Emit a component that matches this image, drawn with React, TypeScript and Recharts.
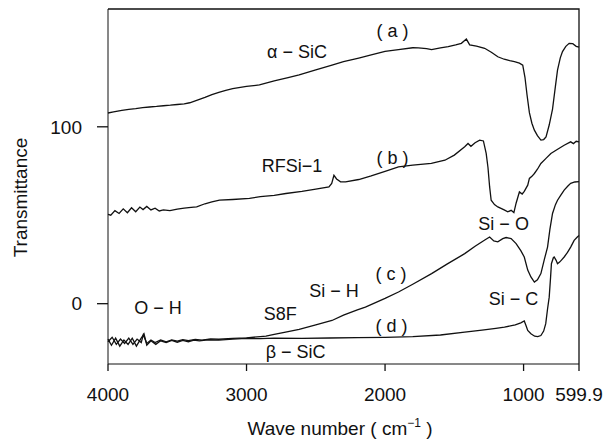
import { ComposedChart, Line, Scatter, XAxis, YAxis } from "recharts";

// wavenumber (cm-1), transmittance
const curveA: [number, number][] = [
  [4000, 107.8], [3960, 108.4], [3900, 109.3], [3850, 109.9], [3800, 110.3],
  [3750, 110.9], [3700, 111.2], [3650, 111.5], [3600, 111.9], [3550, 112.2],
  [3500, 112.6], [3450, 113.0], [3410, 113.6], [3350, 115.2], [3300, 116.6],
  [3250, 118.2], [3200, 119.5], [3150, 120.6], [3100, 121.6], [3000, 122.8],
  [2907, 123.7], [2800, 126.0], [2700, 127.8], [2620, 129.3], [2500, 132.2],
  [2383, 134.9], [2300, 136.8], [2190, 138.8], [2100, 140.6], [2000, 142.6],
  [1903, 143.6], [1800, 144.7], [1760, 144.6], [1700, 144.2], [1664, 143.6],
  [1600, 144.6], [1544, 145.3], [1490, 146.3], [1449, 147.2], [1413, 149.6],
  [1389, 146.3], [1340, 145.6], [1281, 144.4], [1230, 142.0], [1186, 139.6],
  [1140, 138.2], [1100, 137.4], [1066, 136.8], [1030, 136.0], [1006, 134.9],
  [990, 128.0], [975, 118.0], [958, 108.0], [940, 102.0], [922, 98.1],
  [900, 95.0], [875, 92.5], [855, 92.8], [838, 94.3], [815, 101.0],
  [791, 110.0], [770, 123.0], [755, 132.0], [735, 139.0], [719, 142.5],
  [695, 145.5], [671, 147.2], [645, 147.0], [620, 145.5], [599.9, 145.0],
];

const curveB: [number, number][] = [
  [4000, 50.5], [3980, 50.0], [3950, 52.6], [3920, 51.0], [3890, 53.6],
  [3860, 51.4], [3830, 54.2], [3800, 52.0], [3770, 54.6], [3747, 53.2],
  [3720, 55.0], [3690, 53.0], [3660, 54.0], [3630, 52.4], [3600, 53.0],
  [3553, 52.6], [3500, 53.5], [3450, 54.0], [3400, 54.4], [3360, 54.7],
  [3300, 56.5], [3250, 57.5], [3195, 58.5], [3100, 58.9], [2979, 59.5],
  [2900, 60.5], [2800, 61.2], [2716, 62.3], [2600, 63.5], [2500, 64.8],
  [2405, 66.0], [2385, 68.0], [2369, 72.6], [2350, 70.5], [2321, 68.9],
  [2285, 68.9], [2190, 70.2], [2100, 72.2], [2000, 74.8], [1903, 77.3],
  [1800, 78.3], [1666, 79.3], [1568, 81.1], [1500, 84.0], [1425, 88.7],
  [1401, 90.6], [1380, 89.0], [1350, 91.0], [1317, 92.5], [1290, 92.0],
  [1270, 85.0], [1257, 77.0], [1245, 66.0], [1234, 58.5], [1210, 56.0],
  [1186, 54.7], [1140, 53.0], [1114, 51.9], [1090, 52.8], [1070, 51.5],
  [1054, 56.8], [1030, 63.2], [1010, 62.0], [995, 63.5], [970, 67.0],
  [958, 70.8], [940, 72.0], [922, 73.6], [900, 76.0], [875, 79.3],
  [840, 82.0], [803, 84.9], [760, 87.0], [707, 89.6], [660, 91.5],
  [640, 90.5], [620, 91.8], [599.9, 91.5],
];

const curveC: [number, number][] = [
  [4000, -21.5], [3970, -19.0], [3940, -23.0], [3910, -20.0], [3880, -22.5],
  [3850, -19.5], [3820, -23.0], [3790, -20.0], [3760, -22.0], [3745, -17.5],
  [3720, -22.5], [3690, -20.5], [3660, -22.0], [3620, -20.5], [3580, -21.6],
  [3540, -20.5], [3500, -21.2], [3460, -20.3], [3420, -20.9], [3370, -20.2],
  [3320, -20.6], [3260, -19.9], [3200, -20.1], [3100, -19.6], [3000, -19.3],
  [2900, -18.6], [2860, -18.3], [2800, -17.3], [2700, -15.8], [2620, -14.5],
  [2500, -12.0], [2383, -9.5], [2300, -6.5], [2200, -3.5], [2142, -1.9],
  [2000, 3.0], [1903, 6.6], [1800, 11.0], [1664, 17.0], [1550, 22.5],
  [1425, 28.3], [1350, 32.5], [1280, 36.0], [1245, 37.7], [1215, 35.5],
  [1186, 35.0], [1150, 36.8], [1126, 37.4], [1090, 36.8], [1054, 34.0],
  [1020, 30.0], [995, 26.4], [970, 19.0], [947, 15.1], [922, 12.2],
  [900, 13.5], [875, 17.0], [850, 25.0], [827, 32.0], [810, 42.0],
  [791, 51.0], [770, 56.0], [755, 58.5], [730, 61.5], [707, 64.2],
  [680, 66.5], [660, 68.0], [630, 68.8], [599.9, 69.0],
];

const curveD: [number, number][] = [
  [4000, -20.0], [3975, -23.5], [3945, -19.5], [3915, -24.0], [3885, -20.5],
  [3855, -23.0], [3825, -19.5], [3795, -24.0], [3765, -20.0], [3740, -17.0],
  [3720, -23.5], [3690, -21.0], [3655, -23.0], [3620, -21.0], [3580, -22.0],
  [3540, -20.8], [3500, -21.8], [3460, -20.8], [3420, -21.5], [3380, -20.6],
  [3340, -21.0], [3280, -20.4], [3200, -20.6], [3100, -20.0], [3000, -19.6],
  [2900, -19.8], [2800, -19.5], [2600, -19.6], [2400, -19.4], [2200, -19.2],
  [2000, -19.0], [1800, -18.6], [1600, -17.7], [1425, -16.1], [1300, -15.0],
  [1200, -14.0], [1138, -13.3], [1060, -12.0], [1020, -10.8], [995, -9.8],
  [982, -12.5], [970, -15.1], [947, -17.0], [920, -18.4], [898, -18.6],
  [875, -18.0], [855, -15.5], [840, -11.3], [827, -3.0], [815, 3.7],
  [805, 15.0], [799, 22.6], [785, 26.0], [779, 26.4], [765, 24.5],
  [755, 22.6], [740, 23.5], [725, 24.8], [707, 26.4], [683, 29.0],
  [660, 32.0], [635, 35.8], [612, 37.7], [599.9, 38.5],
];

const xTicks = [4000, 3000, 2000, 1000, 599.9];
const yTicks = [0, 100];
const xDomain: [number, number] = [599.9, 4000];
const yDomain: [number, number] = [-34.1, 166.6];

// annotation anchors in data units (wavenumber, transmittance)
const notes: { text: string; w: number; t: number }[] = [
  { text: "α − SiC", w: 2635, t: 142.5 },
  { text: "( a )", w: 1946, t: 153.9 },
  { text: "RFSi−1", w: 2671, t: 77.9 },
  { text: "( b )", w: 1946, t: 82.6 },
  { text: "Si − O", w: 1144, t: 44.9 },
  { text: "Si − H", w: 2369, t: 7.2 },
  { text: "( c )", w: 1957, t: 16.6 },
  { text: "S8F", w: 2757, t: -6 },
  { text: "O − H", w: 3639, t: -2.4 },
  { text: "( d )", w: 1953, t: -12.6 },
  { text: "β − SiC", w: 2646, t: -27.3 },
  { text: "Si − C", w: 1072, t: 2.8 },
];

const toRows = (pts: [number, number][]) => pts.map(([w, t]) => ({ w, t }));

// top and right edges of the box, along the domain limits
const frameRows = [
  { w: xDomain[1], t: yDomain[1] },
  { w: xDomain[0], t: yDomain[1] },
  { w: xDomain[0], t: yDomain[0] },
];

const INK = "#111";
const FONT = "'Liberation Sans', Arial, Helvetica, sans-serif";

// tick mark + label drawn together (tickMargin puts the label; the mark sits next to the axis)
function XTick(props: any) {
  const { x, y, payload } = props;
  return (
    <g>
      <line x1={x} x2={x} y1={y - 24} y2={y - 17} stroke={INK} strokeWidth={1.3} />
      <text x={x} y={y} dy="0.71em" textAnchor="middle" fill={INK} fontSize={19} fontFamily={FONT}>
        {payload.value}
      </text>
    </g>
  );
}

function YTick(props: any) {
  const { x, y, payload } = props;
  return (
    <g>
      <line x1={x + 15} x2={x + 26} y1={y} y2={y} stroke={INK} strokeWidth={1.3} />
      <text x={x} y={y} dy="0.355em" textAnchor="end" fill={INK} fontSize={19} fontFamily={FONT}>
        {payload.value}
      </text>
    </g>
  );
}

function NoteText(props: any) {
  return (
    <text
      x={props.cx}
      y={props.cy}
      textAnchor="middle"
      dominantBaseline="central"
      fill={INK}
      fontSize={18}
      fontFamily={FONT}
    >
      {props.payload?.text}
    </text>
  );
}

export default function App() {
  return (
    <div style={{ position: "relative", width: 600, height: 438, fontFamily: FONT, fontSize: 19, color: INK }}>
      <ComposedChart
        width={600}
        height={438}
        margin={{ top: 1, right: 29, bottom: 8, left: 0 }}
      >
        <XAxis
          dataKey="w"
          type="number"
          domain={xDomain}
          reversed
          ticks={xTicks}
          interval={0}
          height={74}
          stroke={INK}
          tickLine={false}
          tickSize={0}
          tickMargin={24}
          tick={<XTick />}
        />
        <YAxis
          type="number"
          domain={yDomain}
          ticks={yTicks}
          interval={0}
          width={100}
          stroke={INK}
          tickLine={false}
          tickSize={0}
          tickMargin={26}
          tick={<YTick />}
        />
        <Line
          data={frameRows}
          dataKey="t"
          type="linear"
          stroke={INK}
          strokeWidth={1.3}
          dot={false}
          activeDot={false}
          isAnimationActive={false}
        />
        {[curveA, curveB, curveC, curveD].map((pts, i) => (
          <Line
            key={i}
            data={toRows(pts)}
            dataKey="t"
            type="linear"
            stroke={INK}
            strokeWidth={1.3}
            dot={false}
            activeDot={false}
            isAnimationActive={false}
          />
        ))}
        <Scatter data={notes} dataKey="t" shape={<NoteText />} isAnimationActive={false} />
      </ComposedChart>
      <div
        style={{
          position: "absolute",
          left: 232,
          top: 411,
          width: 200,
          lineHeight: "19px",
          textAlign: "center",
          whiteSpace: "nowrap",
        }}
      >
        Wave number ( cm
        <span style={{ position: "relative", top: -8, fontSize: 12 }}>−1</span> )
      </div>
      <div
        style={{
          position: "absolute",
          left: -88,
          top: 180,
          width: 200,
          height: 19,
          lineHeight: "19px",
          textAlign: "center",
          transform: "rotate(-90deg)",
          whiteSpace: "nowrap",
        }}
      >
        Transmittance
      </div>
    </div>
  );
}
